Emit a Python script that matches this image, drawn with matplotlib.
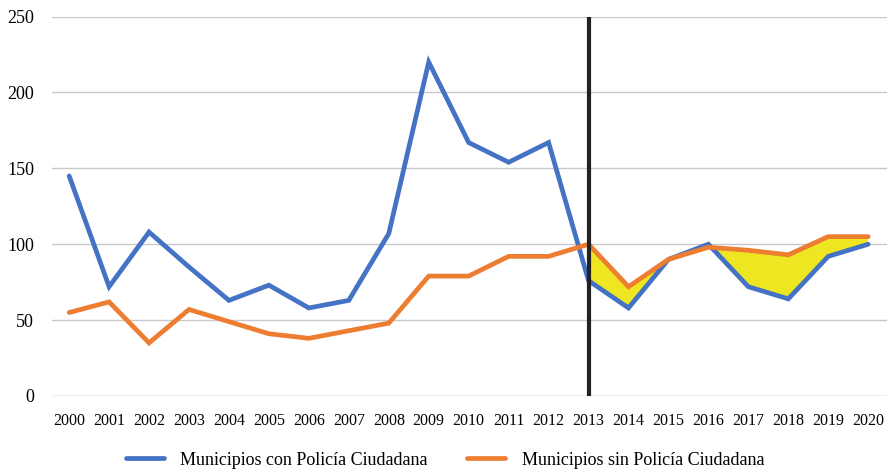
import matplotlib
matplotlib.use("Agg")
import matplotlib.pyplot as plt
import numpy as np

years = list(range(2000, 2021))
con_policia = [145, 72, 108, 85, 63, 73, 58, 63, 107, 220, 167, 154, 167,
               76, 58, 90, 100, 72, 64, 92, 100]
sin_policia = [55, 62, 35, 57, 49, 41, 38, 43, 48, 79, 79, 92, 92,
               100, 72, 90, 98, 96, 93, 105, 105]
corte = 2013
yticks = [0, 50, 100, 150, 200, 250]

plt.rcParams["font.family"] = ["Liberation Serif", "DejaVu Serif"]

x = np.array(years)
con = np.array(con_policia)
sin = np.array(sin_policia)

fig = plt.figure(figsize=(8.9, 4.73), dpi=100)
ax = fig.add_axes([0.0584, 0.1628, 0.9382, 0.8022])

for v in yticks:
    ax.axhline(v, color="#a6a6a6" if v == 0 else "#c8c8c8", lw=1.0, zorder=0)

mask = x >= corte
ax.fill_between(x[mask], con[mask], sin[mask], where=sin[mask] >= con[mask],
                interpolate=True, color="#eee620", lw=0, zorder=1)

ax.plot(x, con, color="#4472c4", lw=3.4, solid_capstyle="round",
        solid_joinstyle="miter", label="Municipios con Policía Ciudadana", zorder=3)
ax.plot(x, sin, color="#ed7d31", lw=3.4, solid_capstyle="round",
        solid_joinstyle="miter", label="Municipios sin Policía Ciudadana", zorder=4)
ax.axvline(corte, color="#222222", lw=3, zorder=5)

ax.set_xlim(1999.57, 2020.47)
ax.set_ylim(0, 250)
ax.set_xticks(years)
ax.set_xticklabels([str(y) for y in years], fontsize=11.5)
ax.set_yticks(yticks)
ax.set_yticklabels([str(v) for v in yticks], fontsize=13)
ax.tick_params(axis="x", length=0, pad=12)
ax.tick_params(axis="y", length=0, pad=13)
for s in ax.spines.values():
    s.set_visible(False)

fig.legend(loc="center", bbox_to_anchor=(0.5, 0.027), ncol=2, frameon=False,
           fontsize=13, handlelength=2.1, columnspacing=2.2, handletextpad=0.9)

fig.savefig("out.png", dpi=100)
